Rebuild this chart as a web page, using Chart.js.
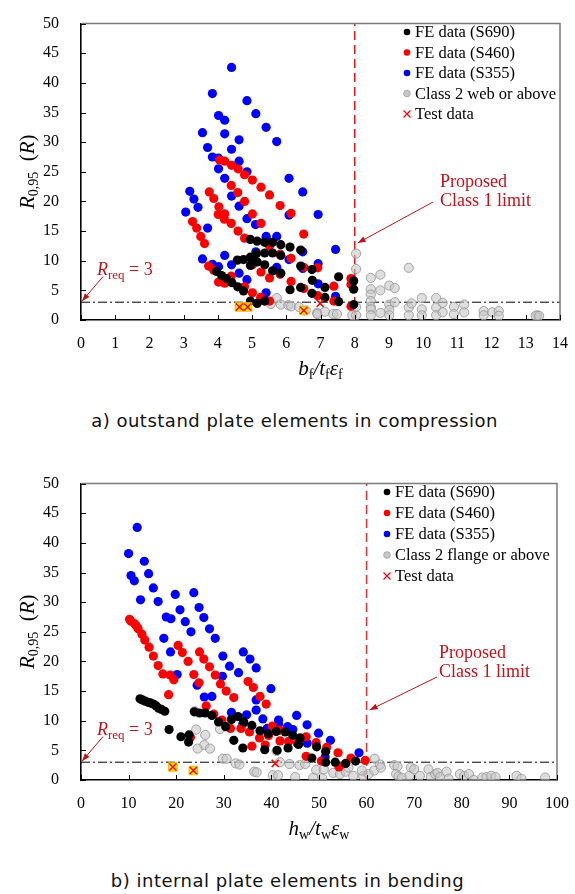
<!DOCTYPE html>
<html><head><meta charset="utf-8">
<script src="https://cdn.jsdelivr.net/npm/chart.js@4/dist/chart.umd.min.js"></script>
<style>
html,body{margin:0;padding:0;background:#fff}
body{width:575px;height:894px;position:relative;overflow:hidden}
.wrap{position:absolute;left:0;width:575px;height:400px}
.cap{position:absolute;width:575px;text-align:center;font-family:'DejaVu Sans',Verdana,sans-serif;font-size:18px;letter-spacing:0.5px;line-height:22px;color:#111;white-space:nowrap}
</style></head><body>
<div class="wrap" style="top:0"><canvas id="ca" width="575" height="400"></canvas></div>
<div class="wrap" style="top:460px"><canvas id="cb" width="575" height="400"></canvas></div>
<div class="cap" style="top:410px;left:7px">a) outstand plate elements in compression</div>
<div class="cap" style="top:870px;left:0px">b) internal plate elements in bending</div>
<script>
// ---------- Panel a: outstand plate elements in compression (x = bf/tf·εf) ----------
const aS690 = [[4.95,13.6],[5.15,13.3],[5.37,13.1],[5.60,13.1],[5.84,12.7],[6.11,12.3],[6.42,11.8],[5.37,11.3],[5.60,11.3],[5.84,10.9],[5.13,11.2],[4.95,10.6],[4.75,10.2],[4.57,10.1],[5.15,9.8],[5.37,9.3],[4.95,9.2],[5.60,8.3],[5.84,7.9],[6.42,9.1],[6.75,8.5],[6.76,6.7],[7.13,5.5],[7.53,7.3],[3.96,8.2],[4.11,7.5],[4.25,7.0],[4.41,6.3],[4.58,5.6],[4.75,4.9],[6.11,5.1],[6.42,5.5],[6.75,4.5],[7.13,3.8],[7.53,3.1],[4.95,3.2],[5.15,2.8],[5.37,3.2],[7.97,6.6],[7.97,5.2],[7.97,2.6]];
const aS460 = [[4.05,27.0],[4.20,26.8],[4.40,26.1],[4.59,25.5],[4.78,24.5],[5.01,23.6],[5.26,22.4],[5.51,21.1],[5.82,19.3],[6.14,18.0],[6.51,14.5],[4.39,22.7],[4.58,21.5],[4.78,20.0],[5.01,17.9],[5.26,16.3],[3.75,21.6],[3.88,20.5],[4.03,19.1],[4.20,17.9],[4.19,17.0],[4.01,17.8],[4.39,16.3],[4.59,15.0],[4.78,13.8],[3.26,16.6],[3.38,15.5],[3.50,14.1],[3.61,12.9],[5.51,12.5],[5.82,11.1],[6.14,10.4],[6.51,8.9],[6.92,8.8],[3.73,9.1],[3.88,8.4],[4.39,7.4],[5.01,9.3],[5.26,8.1],[5.51,7.1],[5.82,7.7],[6.14,6.5],[6.51,5.3],[6.92,4.1],[7.39,5.7],[7.39,3.2],[4.02,6.4],[4.20,6.2],[4.78,5.6],[5.01,4.6],[5.25,3.8],[5.51,3.2],[7.89,7.0],[7.89,6.0],[7.89,2.3]];
const aS355 = [[4.40,42.6],[3.84,38.2],[4.85,37.0],[4.02,34.5],[4.20,33.7],[5.11,34.8],[5.41,32.5],[3.55,31.6],[4.20,31.4],[4.62,30.4],[5.72,30.1],[3.70,29.1],[4.40,28.8],[3.84,27.5],[4.02,27.3],[4.62,26.8],[4.02,25.5],[4.85,25.0],[4.20,23.9],[6.08,23.9],[3.18,21.7],[3.30,20.4],[6.48,21.6],[4.40,20.9],[3.42,19.0],[3.06,18.2],[4.62,19.2],[4.85,17.1],[5.10,16.1],[6.93,17.8],[6.08,17.7],[3.70,15.5],[5.41,14.1],[5.41,13.7],[5.72,14.1],[4.20,10.9],[3.55,10.3],[3.84,9.4],[4.02,9.0],[4.40,9.3],[5.11,11.5],[6.08,10.2],[6.48,11.5],[6.93,9.5],[7.44,11.9],[4.62,7.9],[5.72,8.9],[6.48,8.7],[4.85,6.8],[6.93,6.1],[7.44,4.0],[5.41,4.6]];
const aClass2 = [[5.72,3.7],[5.55,2.7],[5.84,2.6],[6.06,2.5],[6.14,2.3],[6.37,2.2],[6.57,1.6],[6.90,1.2],[6.91,1.0],[7.13,1.4],[7.37,1.0],[7.48,1.0],[7.93,0.8],[8.04,0.8],[8.04,11.2],[8.04,8.6],[8.04,2.2],[8.47,7.1],[8.75,7.65],[9.58,8.8],[9.01,5.8],[9.17,5.4],[8.47,5.2],[8.75,5.0],[8.47,4.3],[8.47,3.2],[8.47,2.2],[8.47,1.8],[8.47,0.8],[8.75,1.2],[9.01,2.6],[9.17,3.0],[9.01,1.7],[9.01,0.8],[9.58,2.1],[9.58,0.8],[9.66,2.8],[9.96,3.7],[9.96,1.8],[9.96,0.8],[10.38,3.7],[10.38,2.1],[10.38,0.8],[10.57,2.9],[10.57,1.3],[10.90,2.2],[10.90,1.0],[11.20,2.6],[11.20,1.3],[11.77,1.5],[11.77,0.8],[12.02,1.3],[12.21,1.5],[12.21,0.7],[13.34,0.8],[13.29,0.7],[13.39,0.7]];
const aTest = [[4.63,2.2],[4.87,2.2],[6.51,1.6],[6.99,2.8]];
const aTestMarked = [[4.63,2.2],[4.87,2.2],[6.51,1.6]];
const aXTicks = [0,1,2,3,4,5,6,7,8,9,10,11,12,13,14];
const aLimit = 8;

// ---------- Panel b: internal plate elements in bending (x = hw/tw·εw) ----------
const bS690 = [[12.4,13.7],[12.9,13.5],[13.5,13.3],[14.1,13.1],[14.6,13.0],[15.2,12.8],[15.8,12.5],[16.3,12.1],[16.9,11.9],[17.6,11.6],[18.5,8.5],[21.0,7.3],[22.7,7.6],[22.6,6.4],[23.8,11.5],[24.9,11.3],[26.1,11.3],[27.5,10.9],[28.9,9.8],[30.4,9.0],[31.6,10.2],[33.0,10.7],[34.2,9.8],[35.9,9.2],[37.6,8.3],[39.3,7.8],[41.0,8.2],[42.9,8.1],[44.5,7.5],[46.0,7.1],[32.1,6.7],[34.0,5.4],[38.6,5.1],[41.2,5.0],[43.5,5.4],[45.7,6.0],[48.5,3.7],[49.5,5.6],[51.4,4.8],[51.4,3.0],[53.4,3.0],[55.6,2.8],[57.7,3.2]];
const bS460 = [[10.2,27.1],[10.5,26.8],[11.2,26.4],[11.6,26.0],[12.0,25.5],[12.8,24.6],[13.4,23.6],[14.3,22.4],[15.2,20.9],[16.2,19.3],[17.2,17.9],[18.7,17.7],[19.5,16.9],[18.4,14.4],[20.4,22.7],[21.3,21.5],[22.5,20.0],[23.7,17.8],[24.9,21.6],[25.8,20.4],[27.0,19.1],[28.2,17.7],[29.3,16.2],[30.5,15.0],[32.1,13.9],[24.8,16.4],[26.3,12.5],[27.9,11.1],[29.6,10.1],[31.4,8.7],[33.6,8.7],[35.1,16.6],[36.2,15.6],[37.6,14.1],[38.9,12.8],[35.4,8.1],[37.5,7.1],[38.7,5.9],[35.9,5.7],[39.4,7.5],[40.2,9.1],[41.8,8.4],[41.8,6.6],[43.6,6.5],[45.4,6.2],[47.3,7.3],[47.3,4.0],[49.4,6.3],[51.6,5.5],[50.5,3.2],[54.0,4.6],[54.2,2.2],[56.7,3.7],[23.0,7.2],[59.7,3.3]];
const bS355 = [[11.8,42.6],[10.0,38.2],[13.3,36.9],[10.5,34.5],[11.2,33.6],[14.2,34.8],[15.2,32.4],[12.5,30.4],[16.2,30.1],[19.8,31.3],[23.7,31.6],[20.8,28.7],[24.8,29.1],[17.9,27.5],[18.9,27.2],[21.9,26.7],[25.8,27.4],[23.1,25.0],[27.0,25.5],[17.4,23.9],[28.2,23.9],[18.8,21.6],[29.8,20.9],[34.1,21.6],[35.5,20.4],[20.2,17.8],[31.2,19.2],[29.7,17.5],[36.8,18.9],[33.1,18.1],[39.9,15.4],[24.4,16.0],[25.9,14.0],[27.5,14.1],[31.6,11.4],[34.0,9.5],[36.8,13.5],[36.8,11.8],[34.8,11.0],[38.2,10.3],[39.1,8.7],[41.5,10.1],[41.5,9.4],[43.4,9.0],[44.5,8.5],[45.3,10.9],[47.5,9.3],[47.5,6.2],[49.9,7.9],[51.3,3.9],[52.4,6.7],[58.4,4.6]];
const bClass2 = [[23.9,11.6],[24.2,8.5],[26.1,7.6],[25.9,5.9],[24.5,5.3],[27.1,5.3],[29.2,8.6],[29.8,3.6],[30.6,3.6],[32.5,2.8],[33.3,2.6],[36.4,1.4],[36.9,1.3],[40.3,0.8],[41.4,0.8],[41.8,3.0],[41.1,4.9],[43.8,2.7],[45.0,0.5],[45.9,2.5],[47.1,2.7],[48.8,0.4],[49.4,1.7],[50.7,0.3],[51.0,1.8],[53.0,1.2],[54.4,1.0],[55.6,1.4],[56.2,2.1],[57.2,0.7],[59.3,0.7],[59.0,1.6],[60.4,1.0],[61.6,1.6],[61.7,3.6],[62.8,2.6],[63.0,2.1],[65.8,2.5],[66.5,2.3],[66.2,1.0],[66.7,0.6],[67.4,0.4],[69.0,0.7],[69.3,2.1],[70.0,1.8],[71.2,0.7],[73.0,1.8],[73.5,0.5],[74.4,1.0],[74.9,1.2],[75.4,0.5],[76.8,1.4],[77.2,0.2],[79.6,1.0],[80.5,0.7],[81.5,1.0],[82.5,0.0],[84.3,0.4],[85.2,0.5],[86.2,0.7],[87.1,0.5],[91.5,0.7],[92.5,0.2],[97.5,0.4]];
const bTest = [[19.3,2.2],[23.6,1.6],[40.8,2.8]];
const bTestMarked = [[19.3,2.2],[23.6,1.6]];
const bXTicks = [0,10,20,30,40,50,60,70,80,90,100];
const bLimit = 60;

const yTicks = [0,5,10,15,20,25,30,35,40,45,50];
const Rreq = 3;
const legendA = ['FE data (S690)','FE data (S460)','FE data (S355)','Class 2 web or above','Test data'];
const legendB = ['FE data (S690)','FE data (S460)','FE data (S355)','Class 2 flange or above','Test data'];

const SERIF = "'Liberation Serif','Times New Roman',serif";
const ANN = '#c0141c';
const toXY = arr => arr.map(p => ({x:p[0], y:p[1]}));

function drawRuns(ctx, parts, x, y, align){
  let w = 0;
  parts.forEach(p => { ctx.font = p[1]; w += ctx.measureText(p[0]).width; });
  let cx = align === 'center' ? x - w/2 : x;
  ctx.textAlign = 'left'; ctx.textBaseline = 'alphabetic';
  parts.forEach(p => { ctx.font = p[1]; ctx.fillText(p[0], cx, y + (p[2]||0)); cx += ctx.measureText(p[0]).width; });
}
function arrow(ctx, x1, y1, x2, y2, color){
  ctx.save();
  ctx.strokeStyle = color; ctx.fillStyle = color; ctx.lineWidth = 1;
  ctx.beginPath(); ctx.moveTo(x1,y1); ctx.lineTo(x2,y2); ctx.stroke();
  const ang = Math.atan2(y2-y1, x2-x1), L = 8, W = 3;
  ctx.beginPath();
  ctx.moveTo(x2, y2);
  ctx.lineTo(x2 - L*Math.cos(ang) + W*Math.sin(ang), y2 - L*Math.sin(ang) - W*Math.cos(ang));
  ctx.lineTo(x2 - L*Math.cos(ang) - W*Math.sin(ang), y2 - L*Math.sin(ang) + W*Math.cos(ang));
  ctx.closePath(); ctx.fill();
  ctx.restore();
}

function makeChart(id, c){
  const pt = (data, color, order) => ({data: toXY(data), backgroundColor: color, borderWidth: 0, pointRadius: 4.6, order});
  const decor = {
    id: 'decor_' + id,
    afterDraw(chart){
      const ctx = chart.ctx, a = chart.chartArea, xs = chart.scales.x, ys = chart.scales.y;
      ctx.save();
      // top & right frame
      ctx.strokeStyle = '#7a7a7a'; ctx.lineWidth = 1.5;
      ctx.beginPath(); ctx.moveTo(a.left, a.top); ctx.lineTo(a.right, a.top); ctx.lineTo(a.right, a.bottom); ctx.stroke();
      // inner ticks
      ctx.strokeStyle = '#000'; ctx.lineWidth = 1;
      xs.ticks.forEach(t => { const p = Math.round(xs.getPixelForValue(t.value)) + 0.5; ctx.beginPath(); ctx.moveTo(p, a.bottom); ctx.lineTo(p, a.bottom - 5); ctx.stroke(); });
      ys.ticks.forEach(t => { const p = Math.round(ys.getPixelForValue(t.value)) + 0.5; ctx.beginPath(); ctx.moveTo(a.left, p); ctx.lineTo(a.left + 5, p); ctx.stroke(); });
      // axis titles
      ctx.fillStyle = '#000';
      const I = 'italic 21px ' + SERIF, N = '21px ' + SERIF, S = '14px ' + SERIF;
      drawRuns(ctx, c.xTitle.map(r => [r[0], r[1]==='i'?I:(r[1]==='s'?S:N), r[1]==='s'?4:0]), (a.left + a.right)/2, a.bottom + 55, 'center');
      ctx.save();
      ctx.translate(34, (a.top + a.bottom)/2); ctx.rotate(-Math.PI/2);
      drawRuns(ctx, [['R',I],['0,95',S,4],['  (',N],['R',I],[')',N]], 0, 0, 'center');
      ctx.restore();
      // Rreq annotation
      ctx.fillStyle = ANN;
      drawRuns(ctx, [['R','italic 18px '+SERIF],['req','13px '+SERIF,4],[' = 3','18px '+SERIF]], 97, a.top + 251, 'left');
      arrow(ctx, a.left + 22, a.top + 253, xs.getPixelForValue(0) + 1, ys.getPixelForValue(Rreq) - 1, ANN);
      // Proposed class 1 limit
      ctx.font = '18px ' + SERIF; ctx.textAlign = 'left'; ctx.fillStyle = ANN;
      ctx.fillText('Proposed', c.propX, c.propY1);
      ctx.fillText('Class 1 limit', c.propX, c.propY2);
      arrow(ctx, c.arrowFrom[0], c.arrowFrom[1], xs.getPixelForValue(c.limit) + 3, c.arrowToY, ANN);
      // legend
      const lg = c.legend;
      ctx.font = '16.5px ' + SERIF; ctx.textBaseline = 'middle';
      const cols = ['#000','#ff0000','#0000ff'];
      lg.labels.forEach((txt, i) => {
        const yy = lg.y0 + i * lg.dy, mx = lg.mx;
        if (i < 3){ ctx.fillStyle = cols[i]; ctx.beginPath(); ctx.arc(mx, yy, 3.3, 0, Math.PI*2); ctx.fill(); }
        else if (i === 3){ ctx.fillStyle = '#c8c8c8'; ctx.strokeStyle = '#a8a8a8'; ctx.lineWidth = 1; ctx.beginPath(); ctx.arc(mx, yy, 3.3, 0, Math.PI*2); ctx.fill(); ctx.stroke(); }
        else { ctx.strokeStyle = '#ff0000'; ctx.lineWidth = 1.2; ctx.beginPath(); ctx.moveTo(mx-3.5,yy-3.5); ctx.lineTo(mx+3.5,yy+3.5); ctx.moveTo(mx+3.5,yy-3.5); ctx.lineTo(mx-3.5,yy+3.5); ctx.stroke(); }
        ctx.fillStyle = '#000'; ctx.textAlign = 'left';
        ctx.fillText(txt, lg.tx, yy + 1);
      });
      ctx.restore();
    }
  };
  return new Chart(document.getElementById(id), {
    type: 'scatter',
    data: { datasets: [
      {type:'line', data:[{x:c.limit,y:0},{x:c.limit,y:50}], borderColor:c.limitColor, borderWidth:1.6, borderDash:[9,5], pointRadius:0, fill:false, order:10},
      {type:'line', data:[{x:0,y:Rreq},{x:c.xmax,y:Rreq}], borderColor:'#000', borderWidth:1, borderDash:[9,3,2,3], pointRadius:0, fill:false, order:11},
      {data: toXY(c.class2), backgroundColor:'rgba(200,200,200,0.6)', borderColor:'rgba(150,150,150,0.85)', borderWidth:1, pointRadius:4.6, order:9},
      pt(c.s355, '#0000ff', 8),
      pt(c.s460, '#ff0000', 7),
      pt(c.s690, '#000000', 6),
      {data: toXY(c.testMarked), pointStyle:'rect', backgroundColor:'#ffee00', borderColor:'#f0b400', borderWidth:1, pointRadius:6, order:5},
      {data: toXY(c.test), pointStyle:'crossRot', borderColor:'#ff0000', backgroundColor:'#ff0000', borderWidth:1.5, pointRadius:5, order:4}
    ]},
    options: {
      responsive:false, animation:false, events:[],
      layout:{padding:{top:15, right:c.padRight, left:0, bottom:0}},
      plugins:{legend:{display:false}, tooltip:{enabled:false}},
      scales:{
        x:{type:'linear', min:0, max:c.xmax,
           afterBuildTicks: s => { s.ticks = c.xTicks.map(v => ({value:v})); },
           ticks:{font:{family:SERIF,size:16}, color:'#000', padding:6, maxRotation:0, autoSkip:false},
           grid:{display:false}, border:{display:true,color:'#000',width:1.6},
           afterFit: s => { s.height = 80; }},
        y:{min:0, max:50,
           afterBuildTicks: s => { s.ticks = yTicks.map(v => ({value:v})); },
           ticks:{font:{family:SERIF,size:16}, color:'#000', padding:14},
           grid:{display:false}, border:{display:true,color:'#000',width:1.6},
           afterFit: s => { s.width = 81; }}
      }
    },
    plugins:[decor]
  });
}

makeChart('ca', {
  s690:aS690, s460:aS460, s355:aS355, class2:aClass2, test:aTest, testMarked:aTestMarked,
  xTicks:aXTicks, xmax:14, limit:aLimit, limitColor:'#dd1c1c', padRight:15,
  xTitle:[['b','i'],['f','s'],['/','i'],['t','i'],['f','s'],['\u03b5','i'],['f','s']],
  propX:440, propY1:187, propY2:206, arrowFrom:[433,202], arrowToY:243,
  legend:{labels:legendA, y0:32, dy:20.5, mx:407, tx:415}
});
makeChart('cb', {
  s690:bS690, s460:bS460, s355:bS355, class2:bClass2, test:bTest, testMarked:bTestMarked,
  xTicks:bXTicks, xmax:100, limit:bLimit, limitColor:'#d03a3a', padRight:18,
  xTitle:[['h','i'],['w','s'],['/','i'],['t','i'],['w','s'],['\u03b5','i'],['w','s']],
  propX:439, propY1:198, propY2:217, arrowFrom:[437,217], arrowToY:250,
  legend:{labels:legendB, y0:32, dy:21, mx:387, tx:395}
});
</script>
</body></html>
